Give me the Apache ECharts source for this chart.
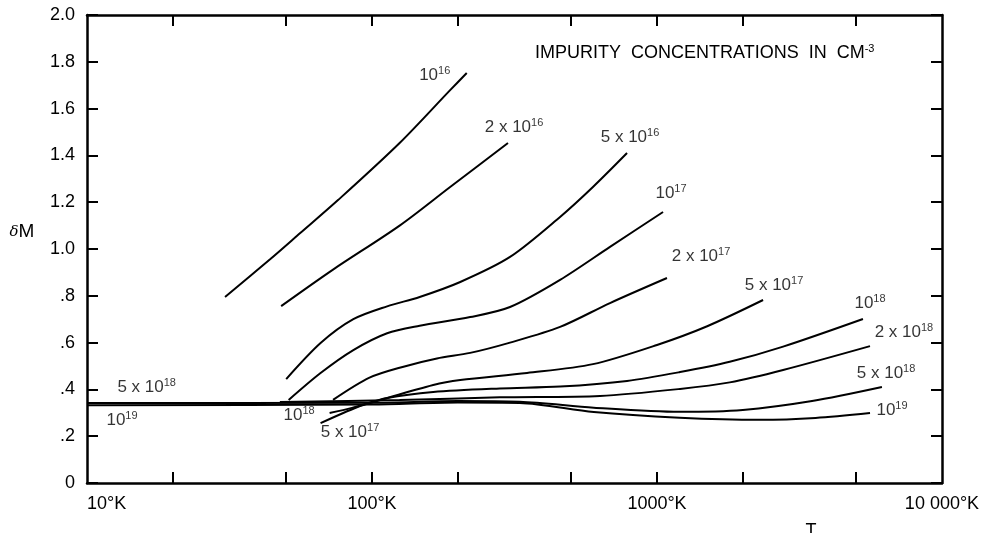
<!DOCTYPE html>
<html>
<head>
<meta charset="utf-8">
<script src="https://cdn.jsdelivr.net/npm/echarts@6/dist/echarts.min.js"></script>
<style>
html, body { margin: 0; padding: 0; background: #fff; }
#chart { width: 983px; height: 533px; }
</style>
</head>
<body>
<div id="chart"></div>
<script>
// tick labels
let xTickLabels = ['10°K', '100°K', '1000°K', '10 000°K'];
let xTickValues = [20, 50, 100, 200, 500, 1000, 2000, 5000];
let yTickLabels = ['0', '.2', '.4', '.6', '.8', '1.0', '1.2', '1.4', '1.6', '1.8', '2.0'];

// curves [T (K), deltaM], one per impurity concentration
let c1e16 = [[30.5, 0.795], [44, 0.957], [56, 1.068], [76, 1.209], [125, 1.453], [188, 1.679], [215, 1.752]];
let c2e16 = [[48, 0.756], [73, 0.912], [125, 1.1], [188, 1.265], [300, 1.453]];
let c5e16 = [[50, 0.444], [66, 0.598], [86, 0.7], [113, 0.755], [147, 0.795], [204, 0.859], [305, 0.966], [457, 1.137], [596, 1.265], [785, 1.41]];
let c1e17 = [[51, 0.355], [66, 0.47], [86, 0.568], [113, 0.64], [147, 0.672], [221, 0.709], [305, 0.752], [457, 0.868], [684, 1.009], [1050, 1.158]];
let c2e17 = [[73, 0.355], [98, 0.45], [128, 0.496], [169, 0.532], [221, 0.556], [305, 0.6], [457, 0.667], [684, 0.769], [1084, 0.876]];
let c5e17 = [[66, 0.256], [89, 0.325], [104, 0.35], [164, 0.419], [204, 0.44], [350, 0.47], [596, 0.508], [1000, 0.59], [1500, 0.67], [2356, 0.782]];
let c1e18 = [[71, 0.299], [85, 0.321], [113, 0.363], [164, 0.389], [281, 0.404], [457, 0.412], [785, 0.436], [1205, 0.474], [1800, 0.518], [2770, 0.583], [5280, 0.701]];
let c2e18 = [[47.5, 0.346], [125, 0.355], [281, 0.366], [631, 0.372], [1205, 0.402], [1800, 0.43], [2770, 0.483], [5590, 0.585]];
let c5e18 = [[10, 0.342], [100, 0.343], [200, 0.35], [330, 0.347], [600, 0.322], [1200, 0.304], [2000, 0.312], [3500, 0.35], [6155, 0.41]];
let c1e19 = [[10, 0.332], [100, 0.335], [200, 0.344], [330, 0.342], [600, 0.303], [1200, 0.279], [2300, 0.27], [3600, 0.278], [5590, 0.299]];

let curves = [c1e16, c2e16, c5e16, c1e17, c2e17, c5e17, c1e18, c2e18, c5e18, c1e19];

// curve labels: mantissa, exponent, anchor [T, deltaM]
let labelBase = ['10', '2 x 10', '5 x 10', '10', '2 x 10', '5 x 10', '10', '2 x 10', '5 x 10', '10', '5 x 10', '10', '10', '5 x 10'];
let labelExp = ['16', '16', '16', '17', '17', '17', '18', '18', '18', '19', '18', '19', '18', '17'];
let labelAt = [[166, 1.744], [315, 1.521], [804, 1.479], [1120, 1.239], [1427, 0.97], [2574, 0.846], [5590, 0.769], [7353, 0.645], [6364, 0.47], [6677, 0.312], [16.2, 0.41], [13.27, 0.269], [55.5, 0.291], [83.7, 0.218]];

let font = 'Liberation Sans';
let chart = echarts.init(document.getElementById('chart'));

let axis_line = { show: true, onZero: false, lineStyle: { color: '#000', width: 2.5 } };
let axis_tick = { show: true, inside: true, length: 11, lineStyle: { color: '#000', width: 2 } };

let series = curves.map((c) => ({
	type: 'line',
	data: c,
	smooth: 0.3,
	symbol: 'none',
	silent: true,
	lineStyle: { color: '#000', width: 2 },
}));

series.push({
	type: 'scatter',
	symbolSize: 0,
	silent: true,
	data: labelAt.map((p, i) => ({ value: p, name: `{b|${labelBase[i]}}{s|${labelExp[i]}}` })),
	label: {
		show: true,
		position: 'inside',
		formatter: (p) => p.name,
		rich: {
			b: { fontFamily: font, fontSize: 17, lineHeight: 19, color: '#000' },
			s: { fontFamily: font, fontSize: 11, lineHeight: 11, verticalAlign: 'top', color: '#000' },
		},
	},
});

let option = {
	animation: false,
	backgroundColor: '#fff',
	grid: { left: 87, right: 41, top: 15, bottom: 50 },
	xAxis: [
		{
			type: 'log',
			logBase: 10,
			min: 10,
			max: 10000,
			position: 'bottom',
			axisLine: axis_line,
			axisTick: Object.assign({ customValues: xTickValues }, axis_tick),
			splitLine: { show: false },
			axisLabel: {
				margin: 12,
				fontFamily: font,
				fontSize: 18,
				color: '#000',
				alignMinLabel: 'left',
				formatter: (v) => xTickLabels[Math.round(Math.log10(v)) - 1],
			},
		},
		{
			type: 'log',
			logBase: 10,
			min: 10,
			max: 10000,
			position: 'top',
			axisLine: axis_line,
			axisTick: Object.assign({ customValues: xTickValues }, axis_tick),
			splitLine: { show: false },
			axisLabel: { show: false },
		},
	],
	yAxis: [
		{
			type: 'value',
			min: 0,
			max: 2,
			interval: 0.2,
			position: 'left',
			axisLine: axis_line,
			axisTick: axis_tick,
			splitLine: { show: false },
			axisLabel: {
				margin: 12,
				fontFamily: font,
				fontSize: 18,
				color: '#000',
				formatter: (v) => yTickLabels[Math.round(v / 0.2)],
			},
		},
		{
			type: 'value',
			min: 0,
			max: 2,
			interval: 0.2,
			position: 'right',
			axisLine: axis_line,
			axisTick: axis_tick,
			splitLine: { show: false },
			axisLabel: { show: false },
		},
	],
	graphic: [
		{
			type: 'text',
			x: 535,
			y: 53,
			silent: true,
			style: {
				text: '{a|IMPURITY  CONCENTRATIONS  IN  CM}{s|-3}',
				verticalAlign: 'middle',
				rich: {
					a: { fontFamily: font, fontSize: 18, lineHeight: 20, fill: '#000' },
					s: { fontFamily: font, fontSize: 11, lineHeight: 11, verticalAlign: 'top', fill: '#000' },
				},
			},
		},
		{
			type: 'text',
			x: 22,
			y: 232,
			silent: true,
			style: {
				text: '{d|δ}{m|M}',
				align: 'center',
				verticalAlign: 'middle',
				rich: {
					d: { fontFamily: 'DejaVu Serif', fontStyle: 'italic', fontSize: 15, fill: '#000' },
					m: { fontFamily: font, fontSize: 19, fill: '#000' },
				},
			},
		},
		{
			type: 'text',
			x: 811,
			y: 531,
			silent: true,
			style: { text: 'T', fontFamily: font, fontSize: 18, fill: '#000', align: 'center', verticalAlign: 'middle' },
		},
	],
	series: series,
};

chart.setOption(option);
</script>
</body>
</html>
